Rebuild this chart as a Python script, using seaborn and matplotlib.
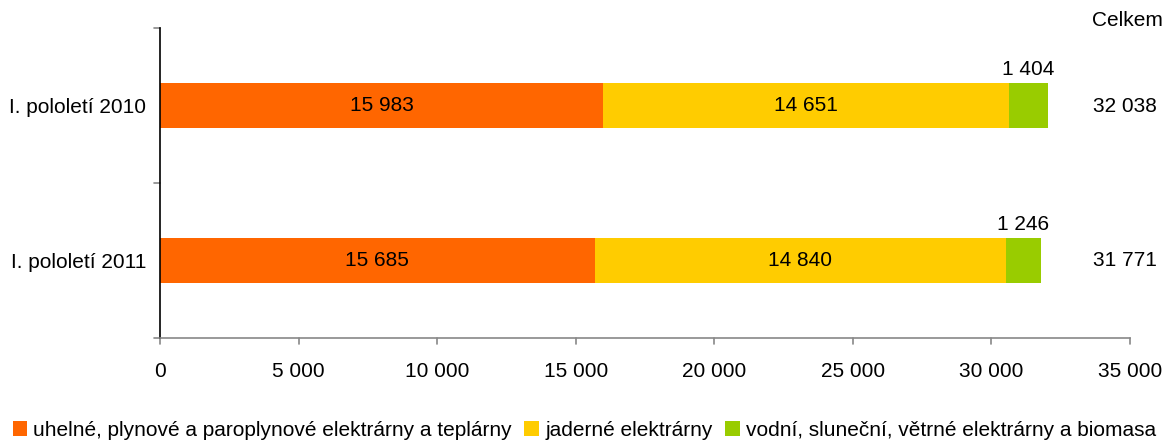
import matplotlib
matplotlib.use("Agg")
import matplotlib.pyplot as plt
import seaborn as sns
import pandas as pd
import numpy as np
from matplotlib.patches import Patch
from matplotlib.ticker import FuncFormatter

categories = ["I. pololetí 2010", "I. pololetí 2011"]
fossil = [15983, 15685]
nuclear = [14651, 14840]
renew = [1404, 1246]
totals = [32038, 31771]
series_names = ["uhelné, plynové a paroplynové elektrárny a teplárny",
                "jaderné elektrárny",
                "vodní, sluneční, větrné elektrárny a biomasa"]
colors = ["#FF6600", "#FFCC00", "#99CC00"]

sns.set_theme(style="white")
plt.rcParams['font.family'] = ['Liberation Sans', 'DejaVu Sans']
plt.rcParams['text.color'] = 'black'

FS = 15

def fmt(v):
    return f"{int(round(v)):,}".replace(",", " ")

df = pd.DataFrame({"cat": categories, "s1": fossil, "s2": nuclear, "s3": renew})
df["c1"] = df["s1"]
df["c2"] = df["s1"] + df["s2"]
df["c3"] = df["c2"] + df["s3"]

fig = plt.figure(figsize=(11.69, 4.41), dpi=100)
ax = fig.add_axes([160/1169, 1-338/441, (1130-160)/1169, (338-28)/441])

w = 0.285
for col, c in zip(["c3", "c2", "c1"], [colors[2], colors[1], colors[0]]):
    sns.barplot(data=df, x=col, y="cat", color=c, width=w, ax=ax,
                saturation=1, orient="h", linewidth=0)

ax.set_xlim(0, 35000)
ax.set_ylim(1.5, -0.5)
ax.set_xlabel("")
ax.set_ylabel("")
ax.xaxis.set_major_formatter(FuncFormatter(lambda v, p: fmt(v)))
ax.set_xticks(np.arange(0, 35001, 5000))
ax.set_yticks([0, 1])
ax.set_yticklabels(categories)
ax.tick_params(axis="y", length=0, pad=10, labelsize=FS, colors="black")
ax.tick_params(axis="x", length=0, pad=17, labelsize=FS, colors="black")
for s in ["top", "right"]:
    ax.spines[s].set_visible(False)
ax.spines["left"].set_color("black")
ax.spines["left"].set_linewidth(1.2)
ax.spines["bottom"].set_color("#888888")
ax.spines["bottom"].set_linewidth(1.2)
for yy in [-0.5, 0.5, 1.5]:
    ax.plot([-0.006, 0], [yy, yy], transform=ax.get_yaxis_transform(),
            color="#888888", lw=1.2, clip_on=False)
for xx in np.arange(0, 35001, 5000):
    ax.plot([xx, xx], [0, -0.02], transform=ax.get_xaxis_transform(),
            color="#888888", lw=1.2, clip_on=False)

for i in range(len(categories)):
    ax.text(df["s1"][i] / 2, i, fmt(df["s1"][i]), ha="center", va="center", fontsize=FS)
    ax.text(df["c1"][i] + df["s2"][i] / 2, i, fmt(df["s2"][i]), ha="center", va="center", fontsize=FS)
    ax.text(df["c2"][i] + df["s3"][i] / 2, i - w / 2 - 0.03, fmt(df["s3"][i]),
            ha="center", va="bottom", fontsize=FS)
    fig.text(1125/1169, 1 - (107 + i * 154) / 441, fmt(totals[i]),
             ha="center", va="center", fontsize=FS)

fig.text(1127/1169, 1-20/441, "Celkem", ha="center", va="center", fontsize=FS)

handles = [Patch(facecolor=c, edgecolor="none") for c in colors]
fig.legend(handles, series_names, loc="lower left", bbox_to_anchor=(0.0, -0.025),
           ncol=3, frameon=False, fontsize=FS, handlelength=0.7, handleheight=0.7,
           handletextpad=0.3, columnspacing=0.6, borderaxespad=0.2)

fig.savefig("out.png", dpi=100)
